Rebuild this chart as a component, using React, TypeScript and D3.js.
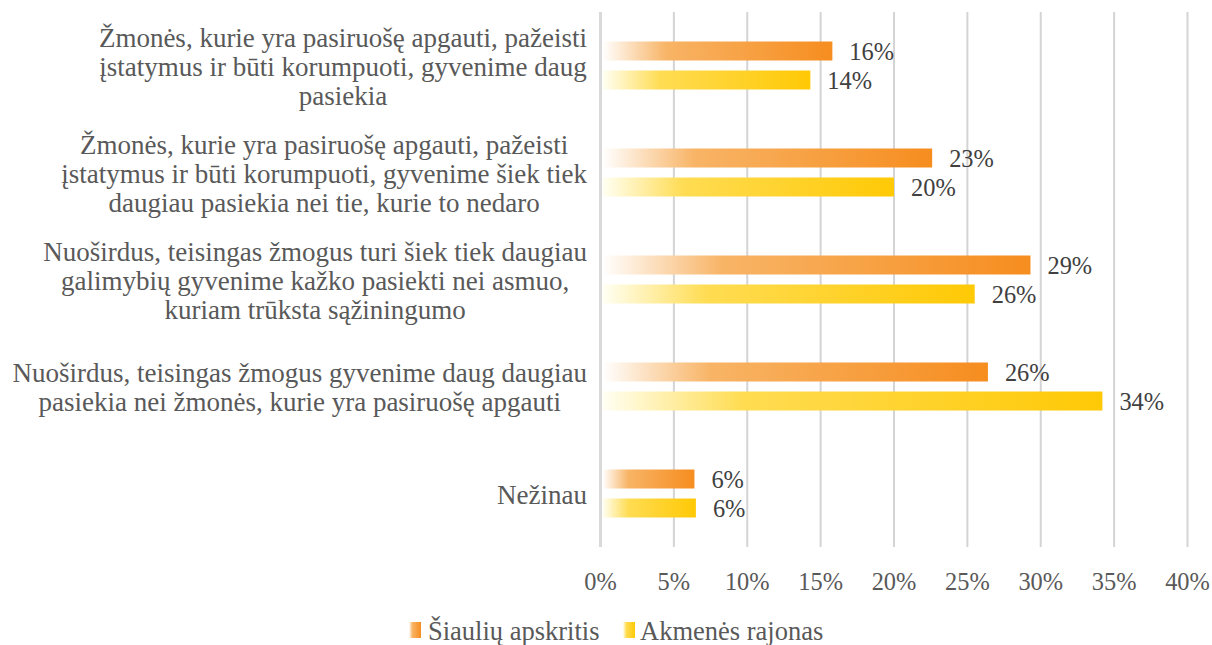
import React, { useEffect, useRef } from "react";
import * as d3 from "d3";

const categories: string[][] = [
  ["Žmonės, kurie yra pasiruošę apgauti, pažeisti", "įstatymus ir būti korumpuoti, gyvenime daug", "pasiekia"],
  ["Žmonės, kurie yra pasiruošę apgauti, pažeisti", "įstatymus ir būti korumpuoti, gyvenime šiek tiek", "daugiau pasiekia nei tie, kurie to nedaro"],
  ["Nuoširdus, teisingas žmogus turi šiek tiek daugiau", "galimybių gyvenime kažko pasiekti nei asmuo,", "kuriam trūksta sąžiningumo"],
  ["Nuoširdus, teisingas žmogus gyvenime daug daugiau", "pasiekia nei žmonės, kurie yra pasiruošę apgauti"],
  ["Nežinau"],
];
const seriesNames = ["Šiaulių apskritis", "Akmenės rajonas"];
const siauliai = [0.158, 0.226, 0.293, 0.264, 0.064];
const akmene = [0.143, 0.2, 0.255, 0.342, 0.065];
const siauliaiLabels = ["16%", "23%", "29%", "26%", "6%"];
const akmeneLabels = ["14%", "20%", "26%", "34%", "6%"];
const ticks = [0, 0.05, 0.1, 0.15, 0.2, 0.25, 0.3, 0.35, 0.4];

const W = 1212;
const H = 645;
const FONT = "Liberation Serif, DejaVu Serif, serif";

export default function App() {
  const ref = useRef<SVGSVGElement | null>(null);

  useEffect(() => {
    const svg = d3.select(ref.current);
    svg.selectAll("*").remove();

    const x = d3.scaleLinear().domain([0, 0.4]).range([600.5, 1187.5]);
    const y = d3.scaleBand<number>().domain(d3.range(categories.length)).range([12, 547]).padding(0);
    const inner = d3.scaleBand<number>().domain([0, 1]).range([0, 48]).paddingInner(10 / 29);

    const defs = svg.append("defs");
    const grads = [
      { id: "gO", stops: [["0%", "#ffffff"], ["28%", "#f8b466"], ["100%", "#f68d1f"]] },
      { id: "gY", stops: [["0%", "#fffff4"], ["28%", "#ffdc52"], ["100%", "#ffc905"]] },
    ];
    grads.forEach((g) => {
      const lg = defs.append("linearGradient").attr("id", g.id).attr("x1", "0").attr("x2", "1").attr("y1", "0").attr("y2", "0");
      g.stops.forEach(([o, c]) => lg.append("stop").attr("offset", o).attr("stop-color", c));
    });

    svg.append("g").selectAll("line").data(ticks).join("line")
      .attr("x1", (d) => x(d)).attr("x2", (d) => x(d))
      .attr("y1", 12).attr("y2", 547)
      .attr("stroke", (d) => (d === 0 ? "#d9d9d9" : "#d4d4d4"))
      .attr("stroke-width", (d) => (d === 0 ? 3 : 2));

    svg.append("g").selectAll("text").data(ticks).join("text")
      .attr("x", (d) => x(d)).attr("y", 590)
      .attr("text-anchor", "middle")
      .style("font-family", FONT).attr("font-size", 24.4).attr("fill", "#595959")
      .text((d) => d3.format(".0%")(d));

    const series = [
      { vals: siauliai, labels: siauliaiLabels, grad: "url(#gO)" },
      { vals: akmene, labels: akmeneLabels, grad: "url(#gY)" },
    ];

    series.forEach((s, si) => {
      const g = svg.append("g");
      g.selectAll("rect").data(s.vals).join("rect")
        .attr("x", x(0) + 2)
        .attr("y", (_d, i) => (y(i) as number) + y.bandwidth() / 2 - 24 + (inner(si) as number))
        .attr("width", (d) => x(d) - x(0) - 2)
        .attr("height", inner.bandwidth())
        .attr("fill", s.grad);
      g.selectAll("text").data(s.vals).join("text")
        .attr("x", (d) => x(d) + 17)
        .attr("y", (_d, i) => (y(i) as number) + y.bandwidth() / 2 - 24 + (inner(si) as number) + inner.bandwidth() / 2 + 8.5)
        .style("font-family", FONT).attr("font-size", 24.4).attr("fill", "#404040")
        .text((_d, i) => s.labels[i]);
    });

    const cg = svg.append("g");
    categories.forEach((lines, i) => {
      const cy = (y(i) as number) + y.bandwidth() / 2 + 1;
      const t = cg.append("text")
        .style("font-family", FONT).attr("font-size", 27).attr("fill", "#595959")
        .attr("text-anchor", "middle");
      const spans = lines.map((ln, li) =>
        t.append("tspan").attr("x", 0).attr("y", cy + (li - (lines.length - 1) / 2) * 29 + 9).text(ln)
      );
      let maxW = 0;
      spans.forEach((sp) => {
        const n = sp.node() as SVGTextContentElement;
        maxW = Math.max(maxW, n.getComputedTextLength());
      });
      const cx = 587 - maxW / 2;
      spans.forEach((sp) => sp.attr("x", cx));
    });

    const lg = svg.append("g");
    const items = [
      { name: seriesNames[0], grad: "url(#gO)", x: 409, tx: 428 },
      { name: seriesNames[1], grad: "url(#gY)", x: 623, tx: 640 },
    ];
    items.forEach((it) => {
      lg.append("rect").attr("x", it.x).attr("y", 622).attr("width", 12).attr("height", 16).attr("fill", it.grad);
      lg.append("text").attr("x", it.tx).attr("y", 640)
        .style("font-family", FONT).attr("font-size", 26.5).attr("fill", "#595959")
        .text(it.name);
    });
  }, []);

  return (
    <svg
      ref={ref}
      width={W}
      height={H}
      style={{ position: "absolute", left: 0, top: 0, background: "#ffffff" }}
    />
  );
}
